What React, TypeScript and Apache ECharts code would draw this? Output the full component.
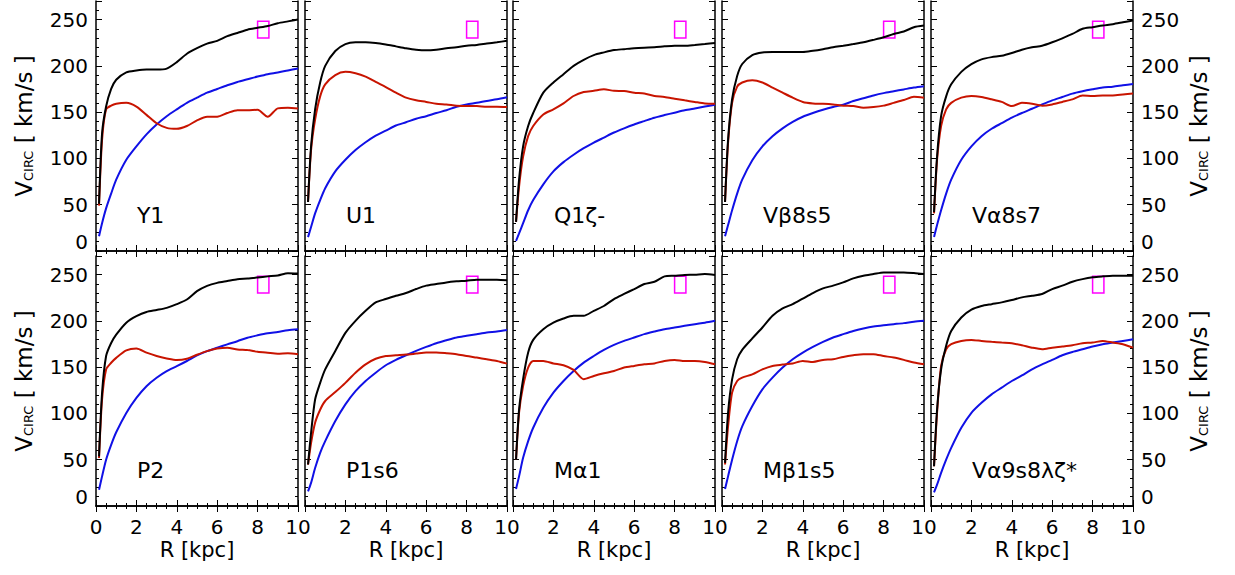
import { useEffect, useRef } from 'react';
import * as echarts from 'echarts';

// radius samples shared by every panel (kpc)
const R_KPC = [0.15, 0.3, 0.5, 0.75, 1, 1.5, 2, 2.5, 3, 3.5, 4, 4.5, 5, 5.5, 6, 6.5, 7, 7.5, 8, 8.5, 9, 9.5, 10];

// circular velocity curves (km/s): total (black), stars (red), dark halo (blue)
const Y1_TOTAL = [51, 127, 156, 175, 185, 193, 195, 196, 196, 197, 204, 213, 219, 224, 227, 232, 235.5, 239, 241, 243, 246, 248, 250];
const Y1_STARS = [49, 120, 153, 157, 159, 160, 156, 147, 138, 133, 132, 135, 141, 145, 145, 149, 152, 152, 152.5, 145, 154, 154.7, 154];
const Y1_HALO = [16, 30, 46, 62, 77, 98.5, 113, 126, 136.6, 145.6, 153, 160, 165.6, 171, 175, 179, 182.6, 185.5, 188.4, 191, 192.8, 195, 197];

const U1_TOTAL = [53, 113, 153, 182, 200, 216, 223.5, 225.4, 225.4, 224.6, 223, 221, 219, 217.4, 216.7, 217.4, 219, 220, 221.7, 222.5, 224, 225.4, 227];
const U1_STARS = [53, 109, 142, 167, 180, 190, 193.5, 192, 188.4, 182.6, 177, 171, 165.6, 162.7, 161, 159, 158.3, 157, 156.5, 156.5, 155.8, 155.8, 155.4];
const U1_HALO = [15, 26, 40.6, 55, 67.8, 86, 98.5, 109, 117.4, 124.6, 130, 135.5, 139, 142.8, 145.6, 149, 152, 155.8, 158.3, 160, 162, 163.8, 166];

const Q1Z_TOTAL = [31.5, 77, 113, 135, 149, 171, 182, 191, 200, 206.5, 211.6, 214.5, 217, 218, 219, 219.6, 220, 221, 221.7, 221.7, 222.5, 223.5, 224.6];
const Q1Z_STARS = [31.5, 69.6, 102, 124, 135, 147.5, 153, 159.4, 167.4, 171.7, 173, 174.6, 173, 172.8, 171, 170, 167.4, 166.3, 164.5, 162.7, 161, 159.4, 159];
const Q1Z_HALO = [11, 19, 30, 44, 55, 72, 86, 96, 104, 111, 117, 122.5, 128, 132.5, 136.6, 140.3, 144, 146.8, 149.4, 152, 154, 156, 158];

const VB8S5_TOTAL = [53, 120, 164, 189, 202, 211.6, 214.5, 215, 215, 215, 215, 216.3, 218, 220, 221.7, 223.5, 225.4, 228, 230.8, 234.4, 237, 241.7, 243.5];
const VB8S5_STARS = [53, 116.7, 160, 177.5, 182, 184.4, 182, 176.5, 171, 165.6, 161, 159.4, 159, 158.3, 157, 156.5, 154.7, 155.4, 157, 160, 163, 166.6, 165.6];
const VB8S5_HALO = [16, 28, 44, 62, 77, 98, 113, 124, 132.5, 139.5, 145, 149, 152.5, 155.5, 158, 162, 165, 168, 170.5, 172.5, 174.5, 176.5, 178];

const VA8S7_TOTAL = [42, 102, 145.6, 167, 180, 193.5, 201.8, 207, 209.4, 210.8, 213.8, 217.4, 220, 221.7, 225.4, 229.7, 234.4, 240, 241.7, 243.5, 245, 247, 249];
const VA8S7_STARS = [40.6, 98.5, 135, 153, 160, 165.6, 167.4, 166.3, 163.8, 161, 156.5, 160, 159, 157, 158.3, 161, 163.8, 168, 167.4, 168, 168, 169, 170];
const VA8S7_HALO = [15, 28, 44, 62, 77, 98.5, 113, 124, 132, 138, 144, 149, 153.6, 158.3, 162.7, 166.3, 170, 172.5, 174.6, 176.5, 177.5, 179, 180.4];

const P2_TOTAL = [53.6, 122, 162, 176, 185, 198, 205, 209.6, 211.7, 214, 218, 223, 232, 237.7, 241, 243, 245, 245.7, 246.8, 248, 249, 251.4, 251];
const P2_STARS = [51.8, 115, 147.5, 154.7, 160, 168, 170, 165.6, 162, 159.4, 157.6, 159, 163.4, 167.3, 170, 171, 169, 168.4, 166.6, 165.5, 164.5, 165, 164];
const P2_HALO = [17.5, 32, 50, 66, 79.6, 100.5, 116.8, 129.4, 138.5, 145.7, 151, 156.6, 162.6, 167.3, 171, 174.6, 178, 181.8, 184.3, 186.5, 188, 189.7, 190.8];

const P1S6_TOTAL = [44.8, 79, 115, 133, 147.6, 167.5, 187, 200, 210.8, 219.9, 223.5, 227, 230, 234.3, 238, 239.7, 241.5, 242.6, 243.3, 244.4, 244.4, 244.4, 243.7];
const P1S6_STARS = [44.8, 68, 90, 104, 113.4, 123, 133, 144, 153, 159, 162, 162.8, 163.5, 164.6, 165.7, 165.7, 165, 164, 162, 160.3, 158.5, 156.7, 153.8];
const P1S6_HALO = [15.9, 25, 41, 57.4, 70, 91.7, 109.7, 124, 135, 144, 152, 157.8, 162.8, 167.5, 171.8, 175.8, 179, 182, 183.8, 185.6, 187.4, 188.4, 190];

const MA1_TOTAL = [50, 104, 137, 165.7, 179.4, 191, 198, 202.5, 205.4, 205.4, 210.8, 216, 223.5, 229, 234.3, 239.7, 242.2, 248, 248.7, 249.5, 249.8, 250.5, 249.5];
const MA1_STARS = [50, 100.7, 129.6, 149.5, 156.7, 156.7, 154, 152, 147, 137, 140.4, 143.3, 145.8, 149.5, 151.3, 153, 154, 156.7, 157.8, 156.7, 156.7, 155.6, 153];
const MA1_HALO = [18.4, 32, 52, 70, 84.5, 106, 122.4, 135, 145.8, 154.9, 162, 168.6, 174, 178.3, 182, 185.6, 188.4, 191, 192.8, 194.6, 196.4, 198, 200];

const MB1S5_TOTAL = [46.6, 100.7, 136.8, 158.5, 168.6, 181, 192.8, 205.4, 213.4, 218, 224, 230, 235, 238, 241.5, 245.8, 248.7, 250.5, 252.3, 252.3, 252.3, 251.6, 250.5];
const MB1S5_STARS = [44.8, 86, 122.4, 135, 138.6, 142.2, 147.6, 151.3, 152.7, 154, 156.7, 155.6, 157.8, 158.5, 161, 162.8, 164, 164, 162, 160.3, 157.8, 155, 153];
const MB1S5_HALO = [18.4, 32, 50, 70, 86, 108, 126, 138.6, 149.5, 158.5, 165.7, 171.8, 177.3, 182, 185.6, 189, 191.7, 193.9, 195.3, 196.4, 197.5, 199, 200];

const VA9_TOTAL = [43, 104, 147.6, 173, 189, 203.6, 212, 216, 218, 219.9, 222.4, 225.3, 227, 228.9, 234.3, 238, 242.2, 245, 247, 248, 248.7, 248.7, 248.7];
const VA9_STARS = [43, 100.7, 151.3, 169.3, 174.7, 178.3, 179.4, 178.3, 177.3, 176.5, 175.8, 173.6, 171, 169.3, 171, 172.2, 173.6, 175.8, 176.5, 178.3, 176.5, 174.7, 171];
const VA9_HALO = [14.8, 23, 35.7, 50, 62.8, 84.5, 100.7, 111.5, 120.6, 127.8, 135, 141, 147.6, 153, 157.8, 162.8, 166.4, 169.3, 172.2, 174.7, 176.5, 178.3, 180];

const MODEL_NAMES = ['Y1', 'U1', 'Q1ζ-', 'Vβ8s5', 'Vα8s7', 'P2', 'P1s6', 'Mα1', 'Mβ1s5', 'Vα9s8λζ*'];
const TOTAL = [Y1_TOTAL, U1_TOTAL, Q1Z_TOTAL, VB8S5_TOTAL, VA8S7_TOTAL, P2_TOTAL, P1S6_TOTAL, MA1_TOTAL, MB1S5_TOTAL, VA9_TOTAL];
const STARS = [Y1_STARS, U1_STARS, Q1Z_STARS, VB8S5_STARS, VA8S7_STARS, P2_STARS, P1S6_STARS, MA1_STARS, MB1S5_STARS, VA9_STARS];
const HALO = [Y1_HALO, U1_HALO, Q1Z_HALO, VB8S5_HALO, VA8S7_HALO, P2_HALO, P1S6_HALO, MA1_HALO, MB1S5_HALO, VA9_HALO];

// observed solar-circle box (R, V) and where the model name sits (R, V)
const SUN_BOX_R = [8.0, 8.56];
const SUN_BOX_V = [230, 248];
const NAME_AT = [2.0, 38];

const FONT = 'DejaVu Sans';
const LEFTS = [96, 305, 513, 722, 931];
const TOPS = [1, 256];
const PW = 202;
const PH = 250;

const AXIS_LINE = { lineStyle: { color: '#000', width: 1.5 } };
const tick = (len: number) => ({ inside: true, length: len, lineStyle: { color: '#000', width: 1 } });

function buildOption() {
  const grid: any[] = [];
  const xAxis: any[] = [];
  const yAxis: any[] = [];
  const series: any[] = [];

  MODEL_NAMES.forEach((name, i) => {
    const row = Math.floor(i / 5);
    const col = i % 5;
    grid.push({ left: LEFTS[col], top: TOPS[row], width: PW, height: PH });

    const xBase = {
      gridIndex: i,
      type: 'value',
      min: 0,
      max: 10,
      interval: 2,
      axisLine: AXIS_LINE,
      axisTick: tick(6),
      minorTick: { show: true, splitNumber: 4, length: 3, lineStyle: { color: '#000', width: 1 } },
      splitLine: { show: false },
    };
    xAxis.push({
      ...xBase,
      position: 'bottom',
      axisLabel: {
        show: row === 1,
        margin: 11,
        fontSize: 20,
        fontFamily: FONT,
        color: '#000',
        formatter: (v: number) => (col > 0 && v === 0 ? '' : String(v)),
      },
      name: row === 1 ? 'R [kpc]' : '',
      nameLocation: 'middle',
      nameGap: 33,
      nameTextStyle: { fontSize: 21, fontFamily: FONT, color: '#000' },
    });
    xAxis.push({ ...xBase, position: 'top', axisLabel: { show: false } });

    const vName = '{v|V}{s|CIRC}{v| [ km/s ]}';
    const vRich = {
      v: { fontSize: 23, fontFamily: FONT, color: '#000' },
      s: { fontSize: 13, fontFamily: FONT, color: '#000', verticalAlign: 'bottom' },
    };
    const labelRich = { z: { fontSize: 20, fontFamily: FONT, color: '#000', padding: [0, 0, 18, 0] } };
    const yMajor = (pos: string, showLabel: boolean) => ({
      gridIndex: i,
      type: 'value',
      position: pos,
      min: 0,
      max: 270,
      interval: 50,
      axisLine: AXIS_LINE,
      axisTick: tick(6),
      splitLine: { show: false },
      axisLabel: {
        show: showLabel,
        margin: 8,
        fontSize: 20,
        fontFamily: FONT,
        color: '#000',
        rich: labelRich,
        formatter: (v: number) => (v === 0 ? '{z|0}' : v % 50 === 0 ? String(v) : ''),
      },
      name: showLabel ? vName : '',
      nameLocation: 'middle',
      nameRotate: 90,
      nameGap: pos === 'left' ? 61 : 54,
      nameTextStyle: { rich: vRich },
    });
    const yMinor = (pos: string) => ({
      gridIndex: i,
      type: 'value',
      position: pos,
      min: 0,
      max: 270,
      interval: 10,
      axisLine: { show: false },
      axisTick: tick(3),
      axisLabel: { show: false },
      splitLine: { show: false },
    });
    const yi = yAxis.length;
    yAxis.push(yMajor('left', col === 0), yMinor('left'), yMajor('right', col === 4), yMinor('right'));

    const pts = (vals: number[]) => R_KPC.map((r, k) => [r, vals[k]]);
    const line = (vals: number[], color: string, extra: any = {}) => ({
      type: 'line',
      xAxisIndex: i * 2,
      yAxisIndex: yi,
      data: pts(vals),
      showSymbol: false,
      silent: true,
      smooth: 0.25,
      lineStyle: { color, width: 2 },
      itemStyle: { color },
      ...extra,
    });
    series.push(
      line(HALO[i], '#1010e6'),
      line(STARS[i], '#c81400'),
      line(TOTAL[i], '#000', {
        markArea: {
          silent: true,
          itemStyle: { color: 'rgba(0,0,0,0)', borderColor: '#ff00ff', borderWidth: 1.5 },
          data: [[{ xAxis: SUN_BOX_R[0], yAxis: SUN_BOX_V[0] }, { xAxis: SUN_BOX_R[1], yAxis: SUN_BOX_V[1] }]],
        },
      }),
      {
        type: 'scatter',
        xAxisIndex: i * 2,
        yAxisIndex: yi,
        silent: true,
        symbolSize: 1,
        itemStyle: { color: 'rgba(0,0,0,0)' },
        data: [NAME_AT],
        label: {
          show: true,
          position: 'right',
          distance: 0,
          formatter: name,
          fontSize: 22,
          fontFamily: FONT,
          color: '#000',
          opacity: 1,
          textBorderWidth: 0,
        },
      },
    );
  });

  return { animation: false, backgroundColor: '#fff', grid, xAxis, yAxis, series };
}

export default function App() {
  const ref = useRef<HTMLDivElement>(null);

  useEffect(() => {
    document.body.style.margin = '0';
    if (!ref.current) return;
    const chart = echarts.init(ref.current, undefined, { renderer: 'svg' });
    chart.setOption(buildOption());
    return () => chart.dispose();
  }, []);

  return <div ref={ref} style={{ width: 1235, height: 575 }} />;
}
